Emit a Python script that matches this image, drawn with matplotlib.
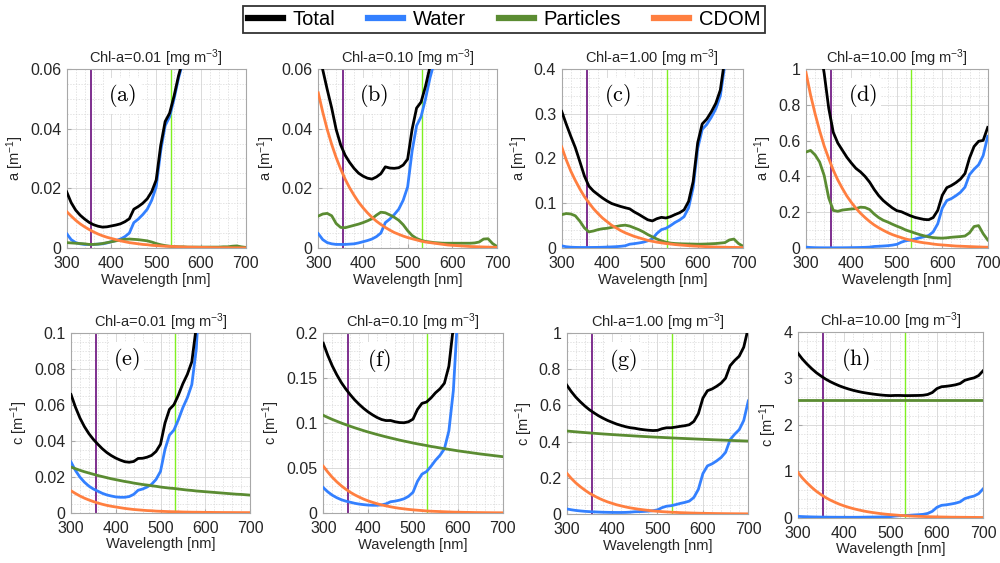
import matplotlib.pyplot as plt
import numpy as np
from matplotlib.lines import Line2D
from matplotlib.ticker import AutoMinorLocator, MultipleLocator, FormatStrFormatter

plt.rcParams['font.family'] = ['Liberation Sans', 'DejaVu Sans']
plt.rcParams['mathtext.fontset'] = 'cm'
plt.rcParams['mathtext.default'] = 'regular'

# wavelength grid [nm]
wl = np.arange(300, 701, 10)

# pure water absorption / attenuation [m^-1]
a_water = [0.0048, 0.0028, 0.0018, 0.0014, 0.0012, 0.0012, 0.0012, 0.0013, 0.0014, 0.0017,
           0.0021, 0.0025, 0.0030, 0.0038, 0.0050, 0.0085, 0.0097, 0.0112, 0.0130, 0.0160,
           0.0205, 0.0325, 0.0410, 0.0440, 0.0500, 0.0570, 0.0625, 0.0700, 0.0900, 0.1350,
           0.2224, 0.2650, 0.2760, 0.2920, 0.3110, 0.3400, 0.4100, 0.4400, 0.4650, 0.5160, 0.6240]
c_water = [0.0282, 0.0235, 0.0198, 0.0170, 0.0148, 0.0132, 0.0120, 0.0108, 0.0099, 0.0093,
           0.0088, 0.0086, 0.0086, 0.0090, 0.0102, 0.0125, 0.0132, 0.0143, 0.0158, 0.0185,
           0.0230, 0.0352, 0.0432, 0.0460, 0.0518, 0.0585, 0.0640, 0.0713, 0.0912, 0.1362,
           0.2235, 0.2660, 0.2770, 0.2930, 0.3120, 0.3410, 0.4110, 0.4410, 0.4660, 0.5170, 0.6250]

# CDOM absorption (no scattering, so same in a and c)
cdom_001 = [0.0122, 0.0107, 0.0093, 0.0081, 0.0071, 0.0062, 0.0054, 0.0047, 0.0041, 0.0036,
            0.0032, 0.0028, 0.0024, 0.0021, 0.0018, 0.0016, 0.0014, 0.0012, 0.0011, 0.0009,
            0.0008, 0.0007, 0.0006, 0.00055, 0.0005, 0.0004, 0.00035, 0.0003, 0.00028, 0.00025,
            0.0002, 0.0002, 0.00016, 0.00014, 0.00012, 0.00011, 0.0001, 0.00008, 0.00007, 0.00006, 0.00005]
cdom_010 = [0.0520, 0.0455, 0.0397, 0.0347, 0.0303, 0.0265, 0.0231, 0.0202, 0.0177, 0.0154,
            0.0135, 0.0118, 0.0103, 0.0090, 0.0079, 0.0069, 0.0060, 0.0052, 0.0046, 0.0040,
            0.0035, 0.0031, 0.0027, 0.0023, 0.0020, 0.0018, 0.0016, 0.0014, 0.0012, 0.0010,
            0.0009, 0.0008, 0.0007, 0.0006, 0.0005, 0.00046, 0.0004, 0.00035, 0.0003, 0.00027, 0.00023]
cdom_100 = [0.226, 0.197, 0.172, 0.151, 0.132, 0.115, 0.101, 0.088, 0.077, 0.067,
            0.059, 0.051, 0.045, 0.039, 0.034, 0.030, 0.026, 0.023, 0.020, 0.017,
            0.015, 0.013, 0.0115, 0.010, 0.009, 0.0077, 0.0068, 0.006, 0.0052, 0.0045,
            0.004, 0.0035, 0.003, 0.0026, 0.0023, 0.002, 0.0018, 0.0015, 0.0014, 0.0012, 0.001]
cdom_1000 = [0.98, 0.855, 0.75, 0.655, 0.57, 0.50, 0.435, 0.38, 0.333, 0.29,
             0.254, 0.222, 0.194, 0.17, 0.148, 0.129, 0.113, 0.099, 0.086, 0.075,
             0.066, 0.058, 0.05, 0.044, 0.038, 0.033, 0.029, 0.026, 0.022, 0.019,
             0.017, 0.015, 0.013, 0.011, 0.010, 0.009, 0.008, 0.007, 0.006, 0.005, 0.0045]

# particle absorption
ap_001 = [0.0018, 0.0017, 0.0016, 0.0015, 0.0014, 0.0012, 0.0012, 0.0013, 0.0015, 0.0018,
          0.0021, 0.0024, 0.0027, 0.0029, 0.0030, 0.0029, 0.0028, 0.0026, 0.0024, 0.0020,
          0.0015, 0.0011, 0.0008, 0.0006, 0.0005, 0.0004, 0.0004, 0.0003, 0.0003, 0.0003,
          0.0003, 0.0003, 0.0003, 0.0003, 0.0003, 0.0004, 0.0004, 0.0006, 0.0007, 0.0004, 0.0002]
ap_010 = [0.0107, 0.0114, 0.0116, 0.0108, 0.0082, 0.0069, 0.0068, 0.0072, 0.0076, 0.0080,
          0.0085, 0.0091, 0.0098, 0.0110, 0.0120, 0.0118, 0.0111, 0.0103, 0.0093, 0.0078,
          0.0058, 0.0042, 0.0032, 0.0026, 0.0022, 0.0020, 0.0018, 0.0017, 0.0016, 0.0016,
          0.0016, 0.0016, 0.0016, 0.0016, 0.0016, 0.0017, 0.0020, 0.0030, 0.0031, 0.0015, 0.0005]
ap_100 = [0.0745, 0.077, 0.076, 0.072, 0.060, 0.045, 0.036, 0.038, 0.041, 0.043,
          0.044, 0.046, 0.048, 0.050, 0.051, 0.049, 0.045, 0.041, 0.036, 0.030,
          0.025, 0.020, 0.016, 0.013, 0.011, 0.010, 0.0095, 0.0092, 0.009, 0.0088,
          0.0085, 0.0087, 0.009, 0.0095, 0.010, 0.011, 0.012, 0.018, 0.020, 0.010, 0.004]
ap_1000 = [0.536, 0.545, 0.52, 0.48, 0.405, 0.28, 0.21, 0.205, 0.212, 0.215,
           0.218, 0.22, 0.228, 0.226, 0.215, 0.19, 0.17, 0.155, 0.145, 0.133,
           0.122, 0.112, 0.10, 0.092, 0.083, 0.075, 0.068, 0.062, 0.058, 0.056,
           0.055, 0.057, 0.06, 0.062, 0.064, 0.067, 0.085, 0.12, 0.125, 0.08, 0.045]

# particle attenuation
cp_001 = [0.0254, 0.0245, 0.0236, 0.0228, 0.0221, 0.0214, 0.0207, 0.0201, 0.0195, 0.0189,
          0.0184, 0.0179, 0.0174, 0.0170, 0.0165, 0.0161, 0.0157, 0.0154, 0.0150, 0.0147,
          0.0143, 0.0140, 0.0137, 0.0135, 0.0132, 0.0129, 0.0126, 0.0124, 0.0121, 0.0119,
          0.0117, 0.0115, 0.0113, 0.0111, 0.0109, 0.0107, 0.0105, 0.0103, 0.0102, 0.0100, 0.0098]
cp_010 = [0.1085, 0.1062, 0.1040, 0.1020, 0.1000, 0.0982, 0.0964, 0.0947, 0.0931, 0.0915,
          0.0900, 0.0886, 0.0872, 0.0859, 0.0846, 0.0834, 0.0822, 0.0810, 0.0799, 0.0789,
          0.0778, 0.0768, 0.0759, 0.0750, 0.0740, 0.0732, 0.0723, 0.0715, 0.0707, 0.0699,
          0.0691, 0.0684, 0.0677, 0.0670, 0.0663, 0.0656, 0.0650, 0.0644, 0.0638, 0.0632, 0.0626]
cp_100 = [0.4586, 0.4563, 0.4541, 0.4520, 0.4500, 0.4480, 0.4461, 0.4442, 0.4424, 0.4407,
          0.4390, 0.4373, 0.4357, 0.4342, 0.4327, 0.4312, 0.4297, 0.4283, 0.4270, 0.4256,
          0.4243, 0.4231, 0.4218, 0.4206, 0.4194, 0.4182, 0.4171, 0.4160, 0.4149, 0.4138,
          0.4127, 0.4117, 0.4106, 0.4096, 0.4086, 0.4077, 0.4067, 0.4058, 0.4048, 0.4039, 0.4030]
cp_1000 = [2.54, 2.54, 2.54, 2.54, 2.54, 2.54, 2.54, 2.54, 2.54, 2.54,
           2.54, 2.54, 2.54, 2.54, 2.54, 2.54, 2.54, 2.54, 2.54, 2.54,
           2.54, 2.54, 2.54, 2.54, 2.54, 2.54, 2.54, 2.54, 2.54, 2.54,
           2.54, 2.54, 2.54, 2.54, 2.54, 2.54, 2.54, 2.54, 2.54, 2.54, 2.54]

# total absorption
at_001 = [0.0188, 0.0152, 0.0127, 0.0110, 0.0097, 0.0086, 0.0078, 0.0073, 0.0070, 0.0071,
          0.0074, 0.0077, 0.0081, 0.0088, 0.0098, 0.0130, 0.0139, 0.0150, 0.0165, 0.0189,
          0.0228, 0.0343, 0.0424, 0.0452, 0.0510, 0.0578, 0.0633, 0.0706, 0.0906, 0.1355,
          0.2229, 0.2655, 0.2765, 0.2924, 0.3114, 0.3405, 0.4105, 0.4407, 0.4658, 0.5165, 0.6243]
at_010 = [0.0675, 0.0597, 0.0531, 0.0469, 0.0397, 0.0346, 0.0311, 0.0287, 0.0267, 0.0251,
          0.0241, 0.0234, 0.0231, 0.0238, 0.0249, 0.0272, 0.0268, 0.0267, 0.0269, 0.0278,
          0.0298, 0.0398, 0.0469, 0.0489, 0.0542, 0.0608, 0.0659, 0.0731, 0.0928, 0.1376,
          0.2249, 0.2674, 0.2783, 0.2942, 0.3131, 0.3422, 0.4124, 0.4434, 0.4684, 0.5178, 0.6247]
at_100 = [0.3053, 0.2768, 0.2498, 0.2244, 0.1932, 0.1612, 0.1382, 0.1273, 0.1194, 0.1117,
          0.1051, 0.0995, 0.0960, 0.0928, 0.0900, 0.0875, 0.0807, 0.0752, 0.0690, 0.0630,
          0.0605, 0.0655, 0.0685, 0.0670, 0.0700, 0.0747, 0.0788, 0.0852, 0.1042, 0.1483,
          0.2349, 0.2772, 0.2880, 0.3041, 0.3233, 0.3530, 0.4238, 0.4595, 0.4864, 0.5272, 0.6290]
at_1000 = [1.5208, 1.4028, 1.2718, 1.1364, 0.9762, 0.7812, 0.6462, 0.5863, 0.5464, 0.5067,
           0.4741, 0.4445, 0.4250, 0.3998, 0.3680, 0.3275, 0.2927, 0.2652, 0.2440, 0.2240,
           0.2085, 0.2025, 0.1910, 0.1800, 0.1710, 0.1650, 0.1595, 0.1580, 0.1700, 0.2100,
           0.2944, 0.3370, 0.3490, 0.3650, 0.3850, 0.4160, 0.5030, 0.5670, 0.5960, 0.6010, 0.6735]

# total attenuation
ct_001 = [0.0658, 0.0587, 0.0527, 0.0479, 0.0440, 0.0408, 0.0381, 0.0356, 0.0335, 0.0318,
          0.0304, 0.0293, 0.0284, 0.0281, 0.0285, 0.0302, 0.0303, 0.0309, 0.0319, 0.0341,
          0.0381, 0.0499, 0.0575, 0.0601, 0.0655, 0.0718, 0.0770, 0.0840, 0.1036, 0.1484,
          0.2354, 0.2777, 0.2885, 0.3042, 0.3230, 0.3518, 0.4216, 0.4514, 0.4763, 0.5271, 0.6349]
ct_010 = [0.1887, 0.1752, 0.1635, 0.1537, 0.1451, 0.1379, 0.1315, 0.1257, 0.1207, 0.1162,
          0.1123, 0.1090, 0.1061, 0.1039, 0.1027, 0.1028, 0.1014, 0.1005, 0.1003, 0.1014,
          0.1043, 0.1151, 0.1218, 0.1233, 0.1278, 0.1335, 0.1379, 0.1442, 0.1631, 0.2071,
          0.2935, 0.3352, 0.3454, 0.3606, 0.3788, 0.4071, 0.4764, 0.5058, 0.5301, 0.5805, 0.6878]
ct_100 = [0.7128, 0.6768, 0.6459, 0.6200, 0.5968, 0.5762, 0.5591, 0.5430, 0.5293, 0.5170,
          0.5068, 0.4969, 0.4893, 0.4822, 0.4769, 0.4737, 0.4689, 0.4656, 0.4628, 0.4611,
          0.4623, 0.4713, 0.4765, 0.4766, 0.4802, 0.4844, 0.4879, 0.4933, 0.5113, 0.5545,
          0.6402, 0.6812, 0.6906, 0.7052, 0.7229, 0.7507, 0.8195, 0.8483, 0.8722, 0.9221, 1.0290]
ct_1000 = [3.5482, 3.4185, 3.3098, 3.2120, 3.1248, 3.0532, 2.9870, 2.9308, 2.8829, 2.8393,
           2.8028, 2.7706, 2.7426, 2.7190, 2.6982, 2.6815, 2.6662, 2.6533, 2.6418, 2.6335,
           2.6290, 2.6332, 2.6332, 2.6300, 2.6298, 2.6315, 2.6330, 2.6373, 2.6532, 2.6952,
           2.7805, 2.8210, 2.8300, 2.8440, 2.8620, 2.8900, 2.9590, 2.9880, 3.0120, 3.0620, 3.1695]

chl = ['0.01', '0.10', '1.00', '10.00']

col_total = 'k'
col_water = '#3380ff'
col_part = '#5b8c32'
col_cdom = '#ff7f40'
col_uv = '#7e2f8e'
col_vis = '#80f020'
txt = '#262626'

fig = plt.figure(figsize=(10, 5.63), dpi=100)

# axes boxes [left, bottom, width, height]
boxes = [[0.0667, 0.5595, 0.1790, 0.318], [0.3183, 0.5595, 0.1787, 0.318],
         [0.5617, 0.5595, 0.1813, 0.318], [0.8060, 0.5595, 0.1817, 0.318],
         [0.0710, 0.0893, 0.1790, 0.3192], [0.3233, 0.0888, 0.1794, 0.3197],
         [0.5667, 0.0870, 0.1816, 0.3215], [0.7977, 0.0805, 0.1856, 0.3298]]

panels = [
    (a_water, ap_001, cdom_001, at_001, 0.06, 0.02, 'a', '(a)', chl[0]),
    (a_water, ap_010, cdom_010, at_010, 0.06, 0.02, 'a', '(b)', chl[1]),
    (a_water, ap_100, cdom_100, at_100, 0.4, 0.1, 'a', '(c)', chl[2]),
    (a_water, ap_1000, cdom_1000, at_1000, 1.0, 0.2, 'a', '(d)', chl[3]),
    (c_water, cp_001, cdom_001, ct_001, 0.1, 0.02, 'c', '(e)', chl[0]),
    (c_water, cp_010, cdom_010, ct_010, 0.2, 0.05, 'c', '(f)', chl[1]),
    (c_water, cp_100, cdom_100, ct_100, 1.0, 0.2, 'c', '(g)', chl[2]),
    (c_water, cp_1000, cdom_1000, ct_1000, 4.0, 1.0, 'c', '(h)', chl[3]),
]

for box, (water, part, cdom, total, ymax, ystep, q, tag, c) in zip(boxes, panels):
    ax = fig.add_axes(box)
    ax.axvline(355, color=col_uv, lw=1.4, zorder=2)
    ax.axvline(532, color=col_vis, lw=1.0, zorder=2)
    ax.plot(wl, water, color=col_water, lw=2.0, zorder=3)
    ax.plot(wl, part, color=col_part, lw=2.0, zorder=3)
    ax.plot(wl, cdom, color=col_cdom, lw=2.0, zorder=3)
    ax.plot(wl, total, color=col_total, lw=2.0, zorder=4)

    ax.set_xlim(300, 700)
    ax.set_ylim(0, ymax)
    ax.xaxis.set_major_locator(MultipleLocator(100))
    ax.yaxis.set_major_locator(MultipleLocator(ystep))
    ax.xaxis.set_minor_locator(AutoMinorLocator())
    ax.yaxis.set_minor_locator(AutoMinorLocator())
    ax.yaxis.set_major_formatter(FormatStrFormatter('%g'))
    ax.grid(which='major', color='#d4d4d4', lw=0.6, ls='-', zorder=0)
    ax.grid(which='minor', color='#d8d8d8', lw=0.5, ls=(0, (2, 2)), zorder=0)
    ax.set_axisbelow(True)
    for s in ax.spines.values():
        s.set_color('#a8a8a8')
        s.set_linewidth(0.8)
    ax.tick_params(which='both', direction='in', colors='#a8a8a8', labelcolor=txt,
                   labelsize=11.5, length=3)
    ax.tick_params(axis='x', pad=6)
    ax.tick_params(axis='y', pad=4)
    ax.tick_params(which='minor', length=0)

    ax.set_title('Chl-a=' + c + ' [mg m$^{-3}$]', fontsize=10.5, color=txt, pad=2)
    ax.set_xlabel('Wavelength [nm]', fontsize=10.5, color=txt, labelpad=1)
    ax.set_ylabel(q + ' [m$^{-1}$]', fontsize=10.5, color=txt, labelpad=3)

    ax.text(0.31, 0.85, r'$\mathrm{' + tag + '}$', transform=ax.transAxes, fontsize=16,
            ha='center', va='center', zorder=5,
            bbox=dict(facecolor='white', edgecolor='none', pad=3))

handles = [Line2D([], [], color=col_total, lw=4.5),
           Line2D([], [], color=col_water, lw=4.5),
           Line2D([], [], color=col_part, lw=4.5),
           Line2D([], [], color=col_cdom, lw=4.5)]
leg = fig.legend(handles, ['Total', 'Water', 'Particles', 'CDOM'], loc='center',
                 bbox_to_anchor=(0.504, 1 - 19.5 / 563), ncol=4, fontsize=14.5,
                 frameon=True, fancybox=False, edgecolor='k', handlelength=1.75,
                 columnspacing=1.6, handletextpad=0.5, borderpad=0.22,
                 borderaxespad=0)
leg.get_frame().set_linewidth(1.3)

fig.savefig('out.png', dpi=100)
